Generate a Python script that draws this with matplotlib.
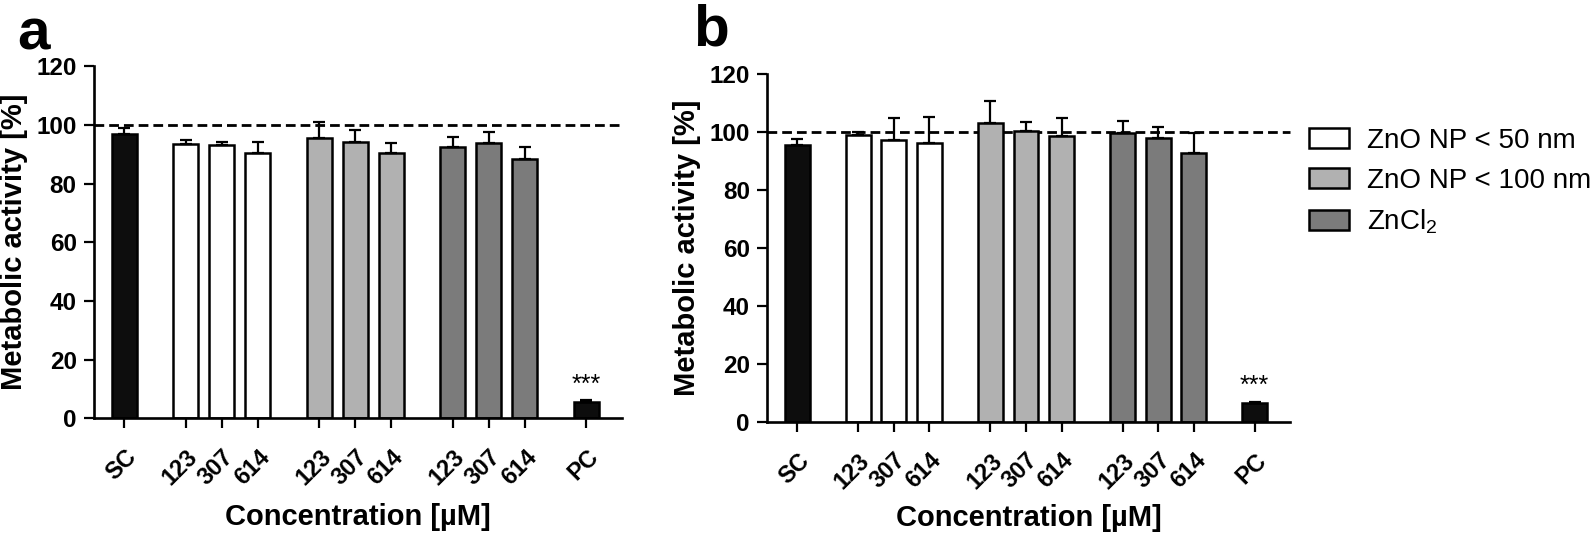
import matplotlib
matplotlib.use("Agg")
import matplotlib.pyplot as plt
from matplotlib.patches import Patch
import numpy as np

plt.rcParams['font.family'] = ['Liberation Sans', 'DejaVu Sans']
plt.rcParams['mathtext.fontset'] = 'custom'
plt.rcParams['mathtext.rm'] = 'Liberation Sans'
plt.rcParams['mathtext.it'] = 'Liberation Sans:italic'
plt.rcParams['mathtext.bf'] = 'Liberation Sans:bold'

# ---- data ----
tick_labels = ['SC', '123', '307', '614', '123', '307', '614', '123', '307', '614', 'PC']
group_of_bar = ['ctrl', 'np50', 'np50', 'np50', 'np100', 'np100', 'np100', 'zncl2', 'zncl2', 'zncl2', 'ctrl']
legend_labels = ['ZnO NP < 50 nm', 'ZnO NP < 100 nm', 'ZnCl$_2$']

means_a = [96.8, 93.4, 93.2, 90.3, 95.7, 94.3, 90.3, 92.6, 93.8, 88.4, 5.5]
err_a   = [2.1, 1.5, 1.1, 4.0, 5.4, 4.0, 3.5, 3.2, 3.9, 4.2, 0.8]
means_b = [95.4, 98.9, 97.1, 96.0, 103.1, 100.3, 98.6, 99.4, 97.7, 92.5, 6.4]
err_b   = [2.1, 1.1, 7.5, 9.2, 7.6, 3.1, 6.0, 4.3, 4.0, 6.9, 0.3]
reference_level = 100
signif_label = '***'

# ---- styling ----
colors = {'ctrl': '#0d0d0d', 'np50': '#ffffff', 'np100': '#b1b1b1', 'zncl2': '#7b7b7b'}
group_gap = 0.71
pos = []
x = 0.0
prev = None
for g in group_of_bar:
    if prev is not None:
        x += 1.0 + (group_gap if g != prev or g == 'ctrl' else 0.0)
    pos.append(x)
    prev = g
pos = np.array(pos)

W, H = 1592, 538
fig = plt.figure(figsize=(W / 100, H / 100), dpi=100)

def px_axes(l, r, b0, t120):
    return fig.add_axes([l / W, 1 - b0 / H, (r - l) / W, (b0 - t120) / H])

ax_a = px_axes(94, 622, 418.3, 66.3)
ax_b = px_axes(767.3, 1290, 421.7, 73.7)

def draw(ax, means, errs, star_y, xlabel_y):
    cols = [colors[g] for g in group_of_bar]
    ax.bar(pos, means, width=0.70, color=cols, edgecolor='black', linewidth=1.8, zorder=2)
    ax.errorbar(pos, means, yerr=[np.zeros(len(errs)), errs], fmt='none', ecolor='black',
                elinewidth=1.6, capsize=4.6, capthick=1.6, zorder=3)
    ax.axhline(reference_level, color='black', linestyle=(0, (3.5, 1.8)), linewidth=2.0, zorder=1,
               clip_on=False)
    ax.set_xlim(-0.84, 13.83)
    ax.set_ylim(0, 120)
    ax.set_yticks(np.arange(0, 121, 20))
    ax.set_xticks(pos)
    ax.set_xticklabels(tick_labels, rotation=45, ha='right', rotation_mode='anchor',
                       fontsize=17, fontweight='bold')
    for lab in ax.get_yticklabels():
        lab.set_fontsize(17.5)
        lab.set_fontweight('bold')
    ax.spines['top'].set_visible(False)
    ax.spines['right'].set_visible(False)
    for s in ('left', 'bottom'):
        ax.spines[s].set_linewidth(1.9)
    ax.tick_params(axis='both', direction='out', length=7.5, width=1.6)
    ax.tick_params(axis='y', pad=5)
    ax.tick_params(axis='x', pad=12)
    ax.set_ylabel('Metabolic activity [%]', fontsize=21, fontweight='bold', labelpad=6)
    ax.set_xlabel('Concentration [µM]', fontsize=21, fontweight='bold', va='center')
    ax.xaxis.set_label_coords(0.5, xlabel_y)
    ax.text(pos[-1], star_y, signif_label, ha='center', va='center', fontsize=18)

draw(ax_a, means_a, err_a, 11.5, -(517 - 418.3) / 352)
draw(ax_b, means_b, err_b, 12.5, -(518 - 421.7) / 348)

fig.text(17 / W, 1 - 8 / H, 'a', fontsize=42, fontweight='bold', ha='left', va='top')
fig.text(693 / W, 1 - 4 / H, 'b', fontsize=42, fontweight='bold', ha='left', va='top')

handles = [Patch(facecolor=colors[g], edgecolor='black', linewidth=1.8) for g in ('np50', 'np100', 'zncl2')]
fig.legend(handles, legend_labels, loc='upper left', bbox_to_anchor=(1309 / W, 1 - 128 / H),
           frameon=False, fontsize=20, handlelength=1.45, handleheight=0.72,
           handletextpad=0.65, labelspacing=0.5, borderpad=0, borderaxespad=0)

fig.savefig('out.png', dpi=100)
